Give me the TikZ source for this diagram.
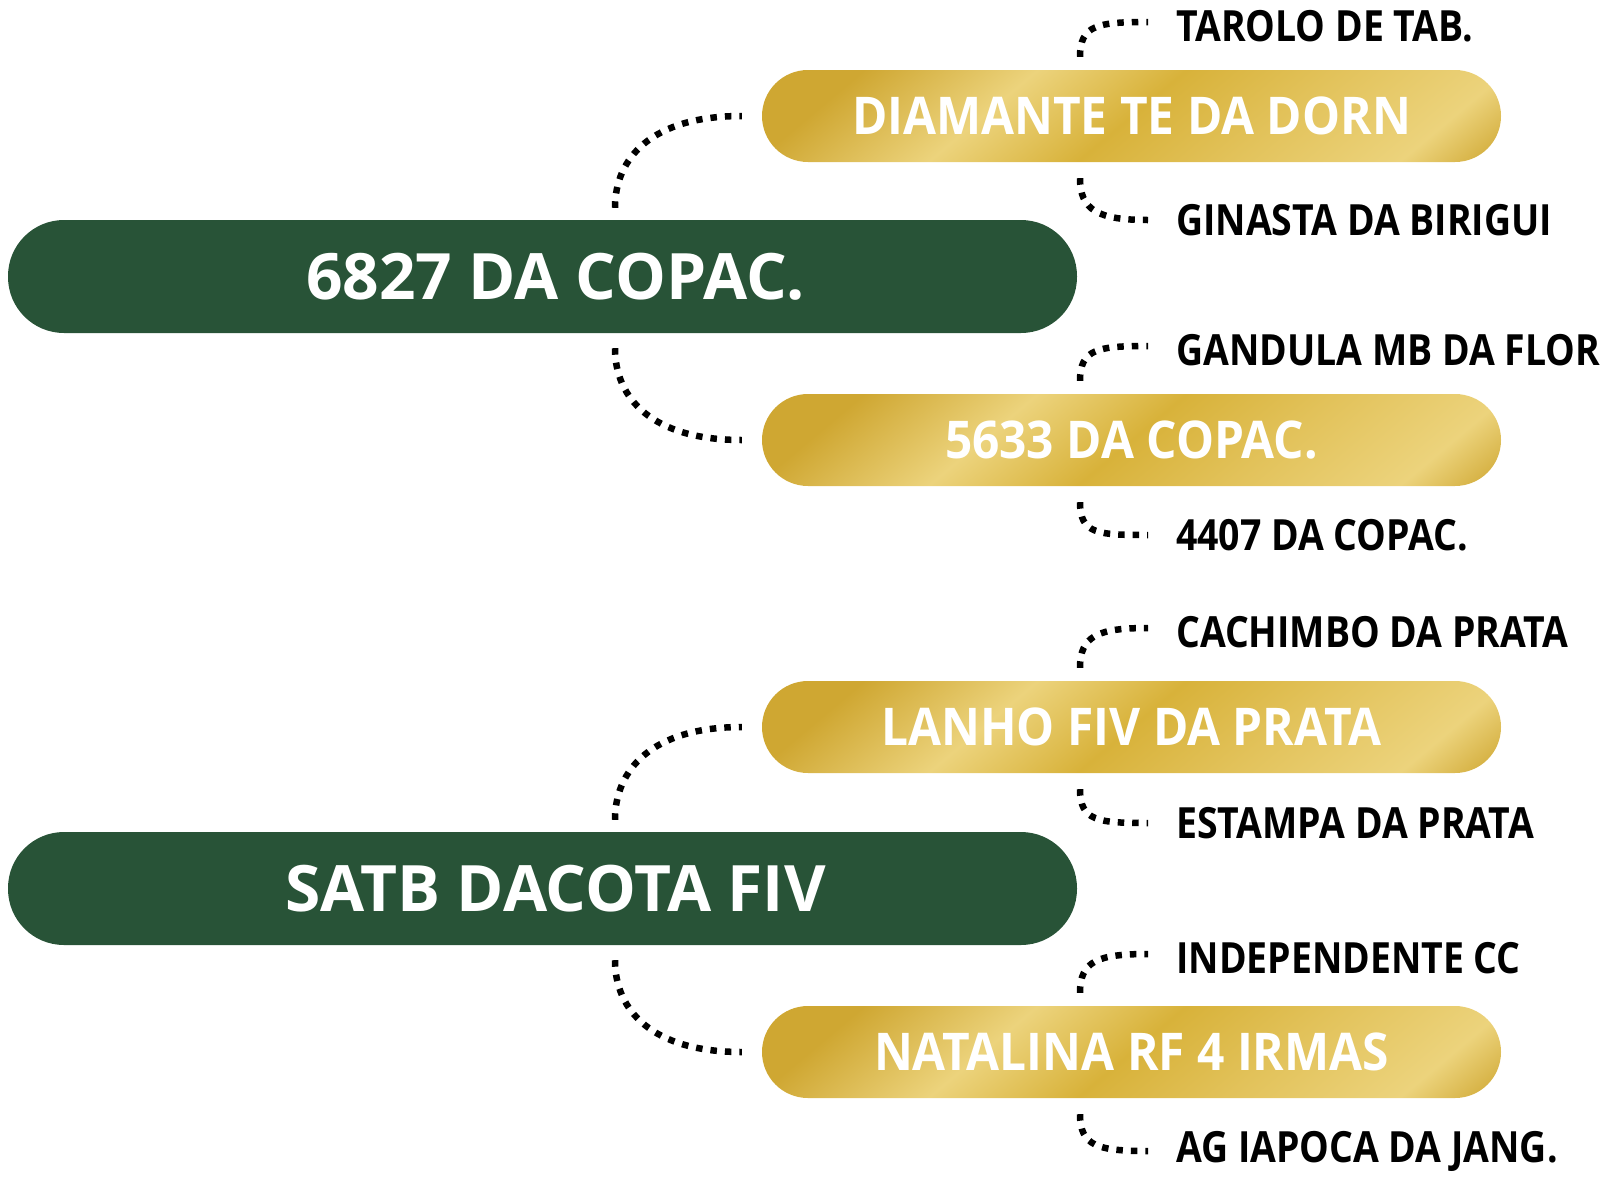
\documentclass[tikz,border=0pt]{standalone}
\usepackage{fontspec}
\setmainfont{Open Sans}
\newfontfamily\goldfont[FakeStretch=0.92]{Open Sans}
\newfontfamily\leaffont[FakeStretch=0.87]{Open Sans}
\usetikzlibrary{positioning}
\definecolor{pinegreen}{RGB}{40,83,55}
\definecolor{golddark}{RGB}{207,167,50}
\definecolor{goldmid}{RGB}{216,178,58}
\definecolor{goldsoft}{RGB}{226,194,90}
\definecolor{goldlight}{RGB}{236,211,124}
\pgfdeclarehorizontalshading{goldsheen}{100bp}{color(0bp)=(golddark); color(37bp)=(golddark); color(44bp)=(goldlight); color(50bp)=(goldmid); color(56bp)=(goldsoft); color(63bp)=(goldlight); color(67bp)=(golddark); color(100bp)=(golddark)}
\tikzset{
  sirebox/.style={rectangle, rounded corners=56pt, fill=pinegreen, minimum width=1069pt,
    minimum height=113pt, inner sep=0pt, text=white, font=\bfseries\fontsize{64}{70}\selectfont,
    execute at begin node=\hspace*{26pt}},
  goldbox/.style={rectangle, rounded corners=46pt, minimum width=739pt, minimum height=92pt,
    inner sep=0pt, text=white, font=\goldfont\bfseries\fontsize{52}{58}\selectfont,
    path picture={\shade[shading=goldsheen, shading angle=-50]
      ([shift={(-400pt,-400pt)}]path picture bounding box.center) rectangle ++(800pt,800pt);}},
  leaf/.style={anchor=west, inner sep=0pt, font=\leaffont\bfseries\fontsize{43}{48}\selectfont},
  dotline/.style={line width=6.5pt, dash pattern=on 6.5pt off 8pt}
}
\begin{document}
\begin{tikzpicture}[x=1pt, y=-1pt]
\useasboundingbox (0,0) rectangle (1604,1192);
% sires
\node[sirebox] (s1) at (542.5,276.5) {6827 DA COPAC.};
\node[sirebox] (s2) at (542.5,888.5) {SATB DACOTA FIV};
% parents
\node[goldbox] (g1) at (1131.5,116) {DIAMANTE TE DA DORN};
\node[goldbox] (g2) at (1131.5,440) {5633 DA COPAC.};
\node[goldbox] (g3) at (1131.5,727) {LANHO FIV DA PRATA};
\node[goldbox] (g4) at (1131.5,1052) {NATALINA RF 4 IRMAS};
% grandparents
\node[leaf] (l1) at (1176,26) {TAROLO DE TAB.};
\node[leaf] (l2) at (1176,220) {GINASTA DA BIRIGUI};
\node[leaf] (l3) at (1176,350) {GANDULA MB DA FLOR};
\node[leaf] (l4) at (1176,535) {4407 DA COPAC.};
\node[leaf] (l5) at (1176,632) {CACHIMBO DA PRATA};
\node[leaf] (l6) at (1176,823) {ESTAMPA DA PRATA};
\node[leaf] (l7) at (1176,958) {INDEPENDENTE CC};
\node[leaf] (l8) at (1176,1151) {AG IAPOCA DA JANG.};
% links
\draw[dotline] ([xshift=72.5pt,yshift=12pt]s1.north) .. controls +(0,-50) and +(-90,0) .. ([xshift=-20pt]g1.west);
\draw[dotline] ([xshift=72.5pt,yshift=-15pt]s1.south) .. controls +(0,50) and +(-90,0) .. ([xshift=-20pt]g2.west);
\draw[dotline] ([xshift=72.5pt,yshift=12pt]s2.north) .. controls +(0,-50) and +(-90,0) .. ([xshift=-20pt]g3.west);
\draw[dotline] ([xshift=72.5pt,yshift=-15pt]s2.south) .. controls +(0,50) and +(-90,0) .. ([xshift=-20pt]g4.west);
\foreach \g/\up/\down in {g1/l1/l2, g2/l3/l4, g3/l5/l6, g4/l7/l8} {
  \draw[dotline] ([xshift=-51.5pt,yshift=13pt]\g.north) .. controls +(0,-32) and +(-50,0) .. ([xshift=-28pt,yshift=4pt]\up.west);
  \draw[dotline] ([xshift=-51.5pt,yshift=-16pt]\g.south) .. controls +(0,32) and +(-50,0) .. ([xshift=-28pt]\down.west);
}
\end{tikzpicture}
\end{document}
